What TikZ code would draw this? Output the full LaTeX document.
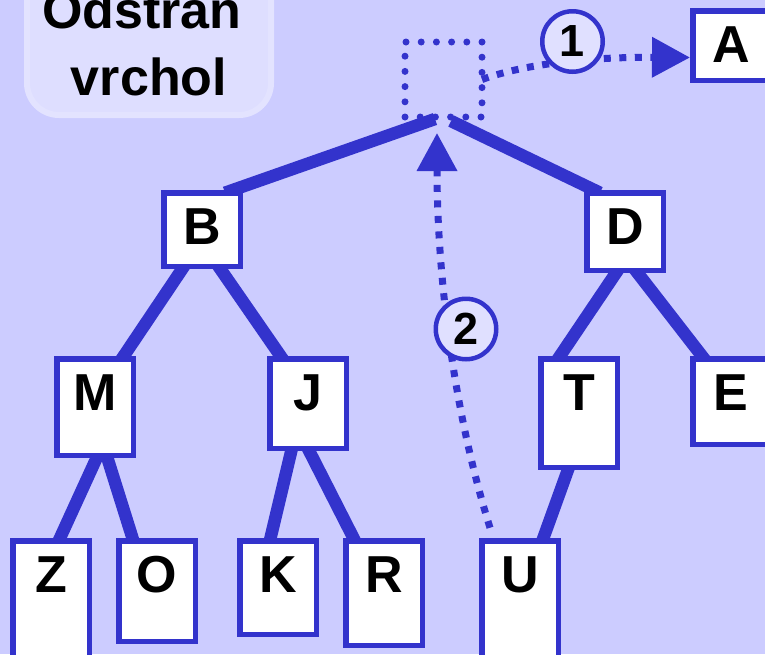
\documentclass[tikz,border=0pt]{standalone}
\usepackage{fontspec}
\setmainfont{Liberation Sans}
\usetikzlibrary{arrows.meta,calc}
\definecolor{bgc}{HTML}{CCCCFF}
\definecolor{blu}{HTML}{3333CC}
\definecolor{pale}{HTML}{DEDEFF}
\definecolor{paleedge}{HTML}{E3E3FF}
\definecolor{circ}{HTML}{E0E0FF}
\pgfdeclarelayer{bglayer}
\pgfdeclarelayer{edgelayer}
\pgfsetlayers{bglayer,edgelayer,main}
\begin{document}
\begin{tikzpicture}[x=1pt,y=-1pt,
  box/.style={draw=blu, fill=white, line width=5.5pt, inner sep=0pt, outer sep=0pt,
    minimum width=76.5pt, text height=51.25pt, anchor=north west,
    font=\fontsize{52}{52}\selectfont\bfseries},
  edge/.style={draw=blu, line width=12.5pt},
  dotsq/.style={draw=blu, line width=7pt, line cap=round, dash pattern=on 0pt off 15.2pt,
    minimum width=77pt, minimum height=75pt, inner sep=0pt, outer sep=0pt},
  dotarrow/.style={draw=blu, line width=7pt, dash pattern=on 7pt off 8.5pt,
    -{Triangle[length=38pt,width=39pt]}},
  numc/.style={circle, draw=blu, fill=circ, line width=4.5pt, minimum size=60.5pt,
    inner sep=0pt, font=\fontsize{45}{45}\selectfont\bfseries},
  ttl/.style={anchor=base, font=\fontsize{52}{52}\selectfont\bfseries}
]
\useasboundingbox (0,0) rectangle (765,654);
\begin{pgfonlayer}{bglayer}
  \fill[bgc] (0,0) rectangle (765,654);
  \node[fill=pale, draw=paleedge, line width=6pt, rounded corners=32pt,
        minimum width=244pt, minimum height=160pt, inner sep=0pt, anchor=south]
        (titlebox) at (149,118) {};
\end{pgfonlayer}

% title
\node[ttl] (t1) at (141.7,28.3) {Odstran};
\node[ttl] (t2) at (149,95) {vrchol};

% removed root (dotted)
\node[dotsq] (root) at (443.5,79.5) {};

% boxes
\node[box, text depth=18.25pt] (A) at (692.75,10.75) {A};
\node[box, text depth=22.25pt] (B) at (163.75,192.75) {B};
\node[box, text depth=26.25pt] (D) at (586.75,192.75) {D};
\node[box, text depth=45.25pt] (M) at (56.75,358.75) {M};
\node[box, text depth=38.25pt] (J) at (269.75,358.75) {J};
\node[box, text depth=57.25pt] (T) at (540.75,358.75) {T};
\node[box, text depth=34.25pt] (E) at (692.75,358.75) {E};
\node[box, text depth=73.25pt] (Z) at (12.75,540.75) {Z};
\node[box, text depth=49.25pt] (O) at (118.75,540.75) {O};
\node[box, text depth=42.25pt] (K) at (239.75,540.75) {K};
\node[box, text depth=53.25pt] (R) at (345.75,540.75) {R};
\node[box, text depth=73.25pt] (U) at (481.75,540.75) {U};

% tree edges
\begin{pgfonlayer}{edgelayer}
  \draw[edge] ($(root.south)+(-8.5,2)$) -- ($(B.north)+(23,0)$);
  \draw[edge] ($(root.south)+(7.5,4)$) -- ($(D.north)+(-25,0)$);
  \draw[edge] ($(B.center)+(-1,11.5)$) -- ($(M.north)+(18,13.25)$);
  \draw[edge] ($(B.center)+(-1,11.5)$) -- ($(J.north)+(-16.4,13.25)$);
  \draw[edge] ($(D.center)+(1,26.5)$) -- ($(T.north)+(-29.8,13.25)$);
  \draw[edge] ($(D.center)+(1,26.5)$) -- ($(E.north)+(-16.6,13.25)$);
  \draw[edge] ($(M.center)+(8,37)$) -- ($(Z.north)+(1.7,13.25)$);
  \draw[edge] ($(M.center)+(8,37)$) -- ($(O.north)+(-19.5,13.25)$);
  \draw[edge] ($(J.center)+(-11,23.5)$) -- ($(K.north)+(-11.3,13.25)$);
  \draw[edge] ($(J.center)+(-11,23.5)$) -- ($(R.north)+(-22.4,13.25)$);
  \draw[edge] ($(T.center)+(-7.5,47)$) -- ($(U.north)+(17.6,13.25)$);
\end{pgfonlayer}

% dotted arrows
\draw[dotarrow] (root.east) .. controls (530,62) and (600,57) .. ($(A.west)+(-2.75,12)$);
\draw[dotarrow] ($(U.north)+(-30,-13)$) .. controls (450,400) and (437,260) .. ($(root.south)+(-6.5,16)$);

% step circles
\node[numc] (c1) at (572.5,41.5) {1};
\node[numc] (c2) at (466,329) {2};
\end{tikzpicture}
\end{document}
